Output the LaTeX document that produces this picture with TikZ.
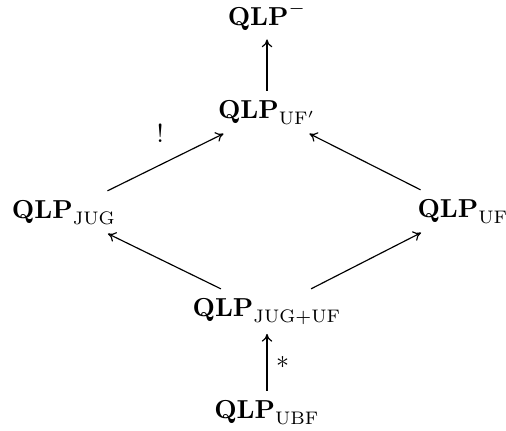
\documentclass[tikz,border=0pt]{standalone}
\usepackage{amsmath}
\usetikzlibrary{arrows.meta}
\begin{document}
\begin{tikzpicture}[x=0.385pt,y=-0.385pt,
  obj/.style={anchor=base, inner sep=3.4pt},
  arr/.style={-{To[length=3pt,width=4pt]}, line width=0.45pt}]
\useasboundingbox (0,0) rectangle (506,430);
% the lattice of QLP variants
\node[obj] (top) at (267,25)  {$\mathbf{QLP}^{-}$};
\node[obj] (ufp) at (267,118) {$\mathbf{QLP}_{\mathrm{UF}'}$};
\node[obj] (jug) at (64,218)  {$\mathbf{QLP}_{\mathrm{JUG}}$};
\node[obj] (uf)  at (463,217) {$\mathbf{QLP}_{\mathrm{UF}}$};
\node[obj] (jugu) at (267,316) {$\mathbf{QLP}_{\mathrm{JUG+UF}}$};
\node[obj] (ubf) at (267,418) {$\mathbf{QLP}_{\mathrm{UBF}}$};
% inclusions
\draw[arr] (ufp) -- (top);
\draw[arr] (jug) -- node[above, yshift=4pt, xshift=-2pt] {!} (ufp);
\draw[arr] (uf) -- (ufp);
\draw[arr] (jugu) -- (jug);
\draw[arr] (jugu) -- (uf);
\draw[arr] (ubf) -- node[right] {$*$} (jugu);
\end{tikzpicture}
\end{document}
